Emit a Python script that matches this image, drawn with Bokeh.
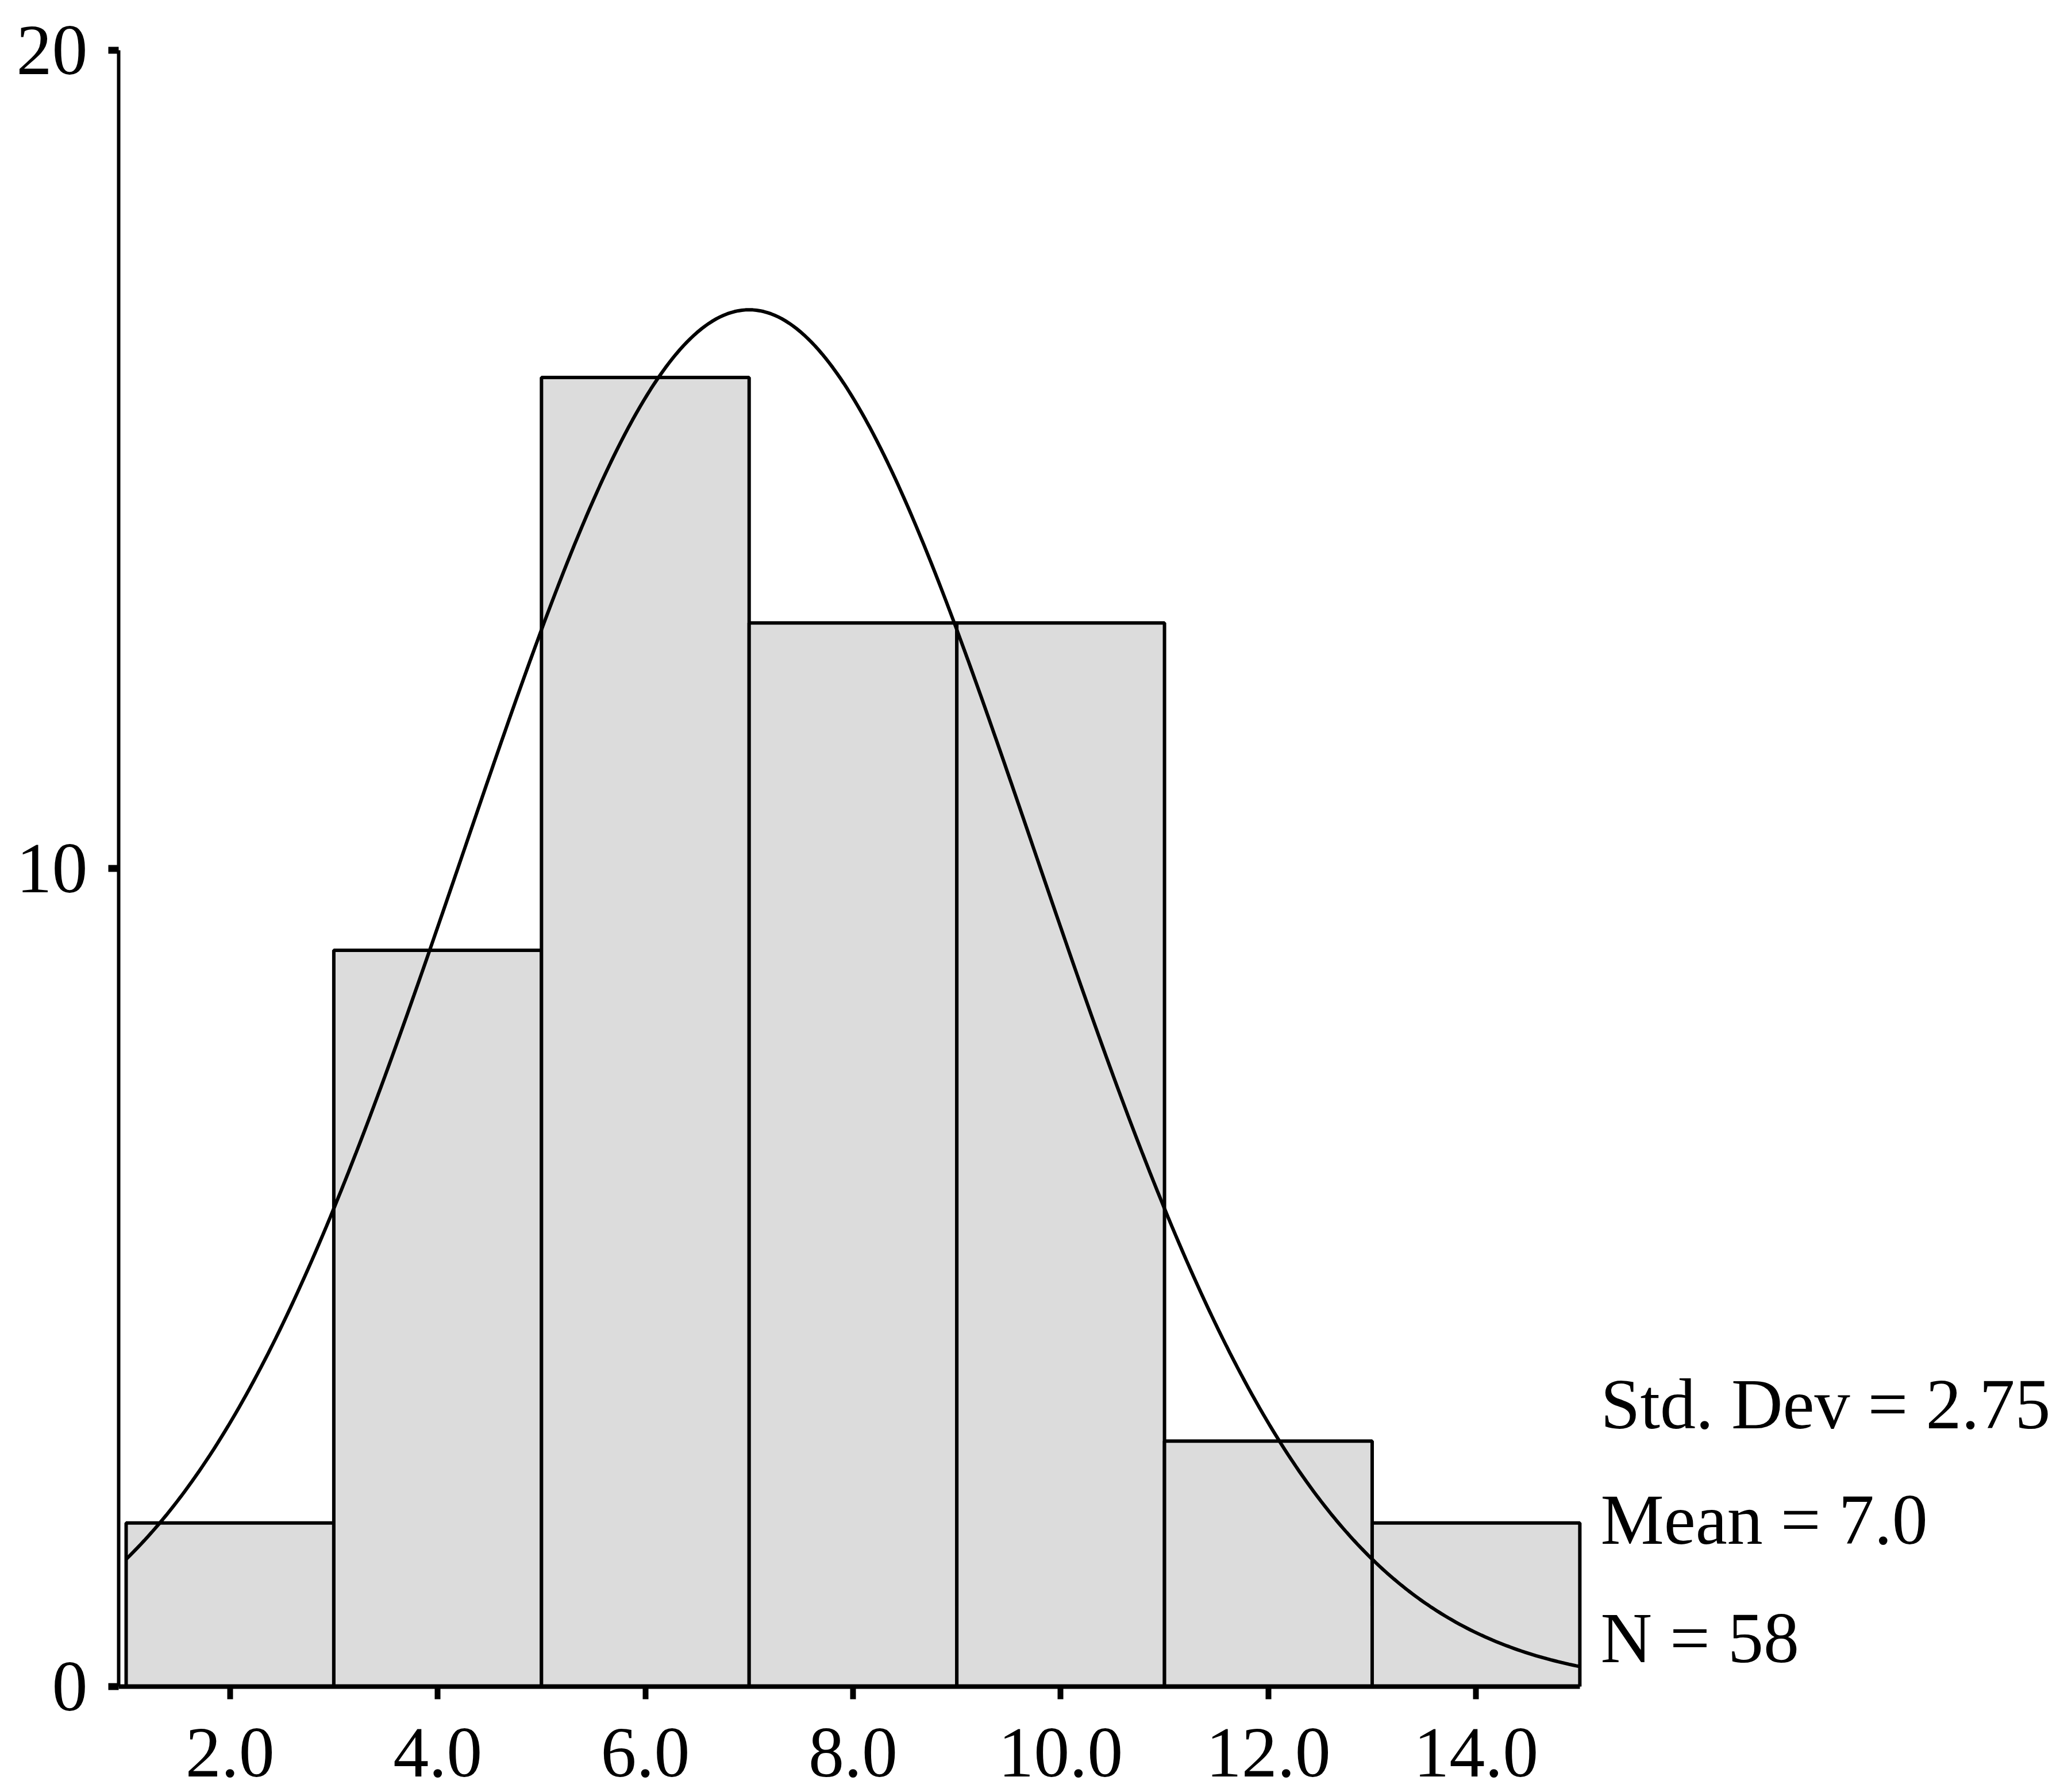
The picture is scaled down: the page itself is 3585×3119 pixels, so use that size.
import numpy as np
from bokeh.plotting import figure
from bokeh.models import Range1d, FixedTicker, Label, CustomJSTickFormatter
from bokeh.embed import file_html
from bokeh.resources import INLINE

# Data
bin_left = [1, 3, 5, 7, 9, 11, 13]
bin_right = [3, 5, 7, 9, 11, 13, 15]
counts = [2, 9, 16, 13, 13, 3, 2]
x_ticks = [2, 4, 6, 8, 10, 12, 14]
y_ticks = [0, 10, 20]
std_dev = 2.75
mean = 7.0
n_total = 58
bin_width = 2.0

FONT = "Liberation Serif"

# frame runs to the right edge of the canvas so that the statistics text is inside it
p = figure(
    output_backend="svg", toolbar_location=None,
    frame_width=3379, frame_height=2848,
    min_border_left=206, min_border_right=0,
    min_border_top=87, min_border_bottom=184,
    x_range=Range1d(0.928, 19.627), y_range=Range1d(0, 20),
    background_fill_color="white", border_fill_color="white",
)
p.outline_line_color = None
p.grid.visible = False

p.quad(left=bin_left, right=bin_right, bottom=0, top=counts,
       fill_color="#dcdcdc", line_color="black", line_width=6)

# Fitted normal curve from the stated statistics
xs = np.linspace(bin_left[0], bin_right[-1], 400)
ys = n_total * bin_width / (std_dev * np.sqrt(2 * np.pi)) * np.exp(-0.5 * ((xs - mean) / std_dev) ** 2)
p.line(xs, ys, line_color="black", line_width=6)

# Axes
p.xaxis.ticker = FixedTicker(ticks=x_ticks)
p.xaxis.formatter = CustomJSTickFormatter(code="return tick.toFixed(1);")
p.xaxis.bounds = (0.928, 15)
p.yaxis.ticker = FixedTicker(ticks=y_ticks)
for ax in (p.xaxis, p.yaxis):
    ax.major_label_text_font = FONT
    ax.major_label_text_font_size = "124px"
    ax.major_label_text_color = "black"
    ax.axis_line_color = "black"
    ax.major_tick_line_color = "black"
    ax.minor_tick_line_color = None
    ax.major_tick_in = 0
p.xaxis.axis_line_width = 8
p.yaxis.axis_line_width = 6
p.xaxis.major_tick_out = 22
p.xaxis.major_tick_line_width = 10
p.yaxis.major_tick_out = 18
p.yaxis.major_tick_line_width = 12
p.xaxis.major_label_standoff = 52
p.yaxis.major_label_standoff = 36

stats = [f"Std. Dev = {std_dev:.2f}", f"Mean = {mean:.1f}", f"N = {n_total}"]
stats_y = [3.45, 2.04, 0.59]
for t, yy in zip(stats, stats_y):
    p.add_layout(Label(x=15.2, y=yy, text=t, text_font=FONT, text_font_size="124px",
                       text_color="black", text_baseline="alphabetic", text_align="left"))

open("out.html", "w").write(file_html(p, INLINE))
